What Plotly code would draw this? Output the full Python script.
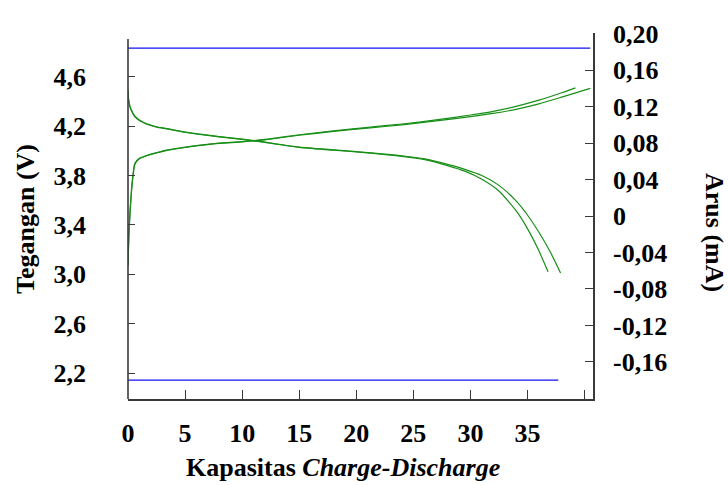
import plotly.graph_objects as go

# ---- data ----
# Charge (voltage rising), two cycles
charge1_cap = [0, 0.1, 0.3, 0.45, 0.6, 1.0, 1.6, 2.5, 3.4, 5, 6.3, 8, 10, 12, 15, 18, 21, 24, 27, 30, 32, 34, 36, 38, 39.2]
charge1_v = [3.07, 3.38, 3.68, 3.82, 3.90, 3.94, 3.962, 3.985, 4.006, 4.03, 4.046, 4.062, 4.075, 4.092, 4.13, 4.162, 4.19, 4.217, 4.25, 4.29, 4.32, 4.36, 4.41, 4.47, 4.51]
charge2_cap = [0, 0.1, 0.3, 0.45, 0.6, 1.0, 1.6, 2.5, 3.4, 5, 6.3, 8, 10, 12, 15, 18, 21, 24, 27, 30, 32, 34, 36, 38, 40.5]
charge2_v = [3.07, 3.36, 3.66, 3.80, 3.89, 3.935, 3.958, 3.982, 4.003, 4.027, 4.043, 4.06, 4.072, 4.089, 4.126, 4.157, 4.184, 4.21, 4.242, 4.277, 4.303, 4.336, 4.38, 4.435, 4.506]

# Discharge (voltage falling), two cycles
dis1_cap = [0, 0.05, 0.15, 0.3, 0.6, 1.0, 1.6, 2.5, 3.4, 4.8, 6.3, 8, 10, 12, 15, 18, 21, 24, 26, 28, 29.5, 31, 32.5, 34, 35, 36, 36.8]
dis1_v = [4.49, 4.42, 4.37, 4.33, 4.28, 4.25, 4.22, 4.195, 4.18, 4.155, 4.135, 4.115, 4.095, 4.07, 4.027, 4.005, 3.983, 3.955, 3.928, 3.88, 3.835, 3.77, 3.675, 3.515, 3.37, 3.19, 3.02]
dis2_cap = [0, 0.05, 0.15, 0.3, 0.6, 1.0, 1.6, 2.5, 3.4, 4.8, 6.3, 8, 10, 12, 15, 18, 21, 24, 26, 28, 29.5, 31, 32.5, 34, 35, 36, 37, 37.9]
dis2_v = [4.48, 4.41, 4.36, 4.325, 4.275, 4.245, 4.217, 4.192, 4.177, 4.152, 4.132, 4.113, 4.093, 4.068, 4.03, 4.008, 3.986, 3.96, 3.935, 3.89, 3.85, 3.80, 3.72, 3.595, 3.48, 3.34, 3.18, 3.01]

# Current (mA), right axis
cur_charge_cap = [0, 40.5]
cur_charge = [0.184, 0.184]
cur_dis_cap = [0, 37.7]
cur_dis = [-0.180, -0.180]

x_ticks = [0, 5, 10, 15, 20, 25, 30, 35, 40]
x_ticktext = ["0", "5", "10", "15", "20", "25", "30", "35", ""]
v_ticks = [2.2, 2.6, 3.0, 3.4, 3.8, 4.2, 4.6]
v_ticktext = ["2,2", "2,6", "3,0", "3,4", "3,8", "4,2", "4,6"]
i_ticks = [0.20, 0.16, 0.12, 0.08, 0.04, 0, -0.04, -0.08, -0.12, -0.16]
i_ticktext = ["0,20", "0,16", "0,12", "0,08", "0,04", "0", "-0,04", "-0,08", "-0,12", "-0,16"]

GREEN = "#178f17"
BLUE = "#1010f0"
AX = "#3a3a3a"
FONT = "Liberation Serif, Times New Roman, serif"

fig = go.Figure()
for cx, vy in [(charge1_cap, charge1_v), (charge2_cap, charge2_v), (dis1_cap, dis1_v), (dis2_cap, dis2_v)]:
    fig.add_trace(go.Scatter(x=cx, y=vy, mode="lines", line=dict(color=GREEN, width=1.2, shape="spline", smoothing=0.6), yaxis="y"))
fig.add_trace(go.Scatter(x=cur_charge_cap, y=cur_charge, mode="lines", line=dict(color=BLUE, width=1.3), yaxis="y2"))
fig.add_trace(go.Scatter(x=cur_dis_cap, y=cur_dis, mode="lines", line=dict(color=BLUE, width=1.3), yaxis="y2"))

tickfont = dict(family=FONT, size=26, color="black", weight="bold")

fig.update_layout(
    width=728, height=485,
    margin=dict(l=128, r=135, t=33, b=86),
    plot_bgcolor="white", paper_bgcolor="white",
    showlegend=False,
    xaxis=dict(range=[0, 40.74], tickvals=x_ticks, ticktext=x_ticktext, ticks="inside", ticklen=9,
               tickwidth=1.3, tickcolor=AX, showline=True, linecolor=AX, linewidth=1.6,
               showgrid=False, zeroline=False, tickfont=tickfont, ticklabelstandoff=10),
    yaxis=dict(range=[1.99, 4.954], tickvals=v_ticks, ticktext=v_ticktext, ticks="inside", ticklen=7,
               tickwidth=1.3, tickcolor=AX, showline=False, showgrid=False, zeroline=False,
               tickfont=tickfont, ticklabelstandoff=41),
    yaxis2=dict(range=[-0.2006, 0.2006], tickvals=i_ticks, ticktext=i_ticktext, overlaying="y", side="right",
                ticks="inside", ticklen=8, tickwidth=1.3, tickcolor=AX, showline=True, linecolor=AX,
                linewidth=1.6, showgrid=False, zeroline=False, tickfont=tickfont, ticklabelstandoff=13),
    shapes=[dict(type="line", xref="paper", yref="paper", x0=0, x1=0, y0=0, y1=(399 - 39) / 366,
                 line=dict(color=AX, width=1.6))],
    annotations=[
        dict(text="<b>Tegangan (V)</b>", xref="paper", yref="paper", x=(25 - 128) / 465, y=(399 - 219) / 366,
             textangle=-90, showarrow=False, xanchor="center", yanchor="middle",
             font=dict(family=FONT, size=26, color="black")),
        dict(text="<b>Arus (mA)</b>", xref="paper", yref="paper", x=(715 - 128) / 465, y=(399 - 232) / 366,
             textangle=90, showarrow=False, xanchor="center", yanchor="middle",
             font=dict(family=FONT, size=26, color="black")),
        dict(text="<b>Kapasitas <i>Charge-Discharge</i></b>", xref="paper", yref="paper",
             x=(343 - 128) / 465, y=(399 - 468) / 366, showarrow=False, xanchor="center", yanchor="middle",
             font=dict(family=FONT, size=26, color="black")),
    ],
)

fig.write_html("out.html", config={"displayModeBar": False},
               post_script="document.body.style.margin='0';document.body.style.overflow='hidden';")
